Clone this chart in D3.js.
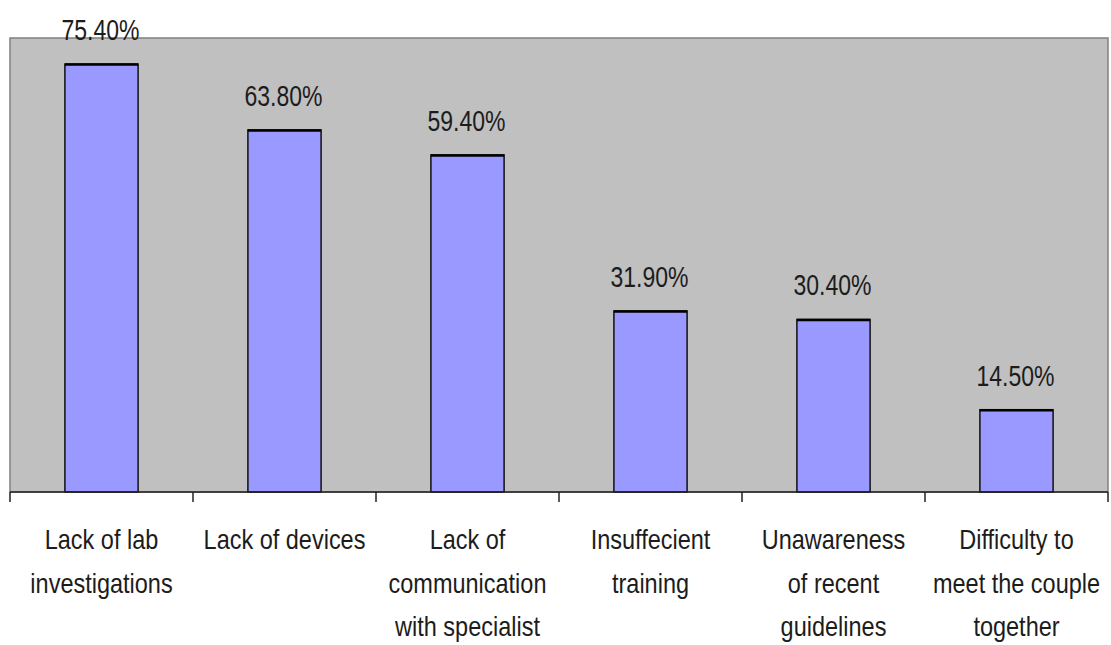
<!DOCTYPE html>
<html>
<head>
<meta charset="utf-8">
<script src="https://cdn.jsdelivr.net/npm/d3@7"></script>
<style>
  body { margin: 0; background: #fff; }
  text { font-family: "Liberation Sans", Arial, sans-serif; fill: #1c1c1c; }
</style>
</head>
<body>
<div id="chart"></div>
<script>
(function () {
  // categories (line breaks as in the picture)
  var categories = [
    "Lack of lab\ninvestigations",
    "Lack of devices",
    "Lack of\ncommunication\nwith specialist",
    "Insuffecient\ntraining",
    "Unawareness\nof recent\nguidelines",
    "Difficulty to\nmeet the couple\ntogether"
  ];
  var values = [75.4, 63.8, 59.4, 31.9, 30.4, 14.5];
  var valueLabels = ["75.40%", "63.80%", "59.40%", "31.90%", "30.40%", "14.50%"];

  var W = 1111, H = 645;
  var margin = { top: 38, right: 3, bottom: 153, left: 10 };
  var width = W - margin.left - margin.right;
  var height = H - margin.top - margin.bottom;

  var svg = d3.select("#chart")
    .append("svg")
    .attr("width", W)
    .attr("height", H)
    .style("display", "block");

  var g = svg.append("g")
    .attr("transform", "translate(" + margin.left + "," + margin.top + ")");

  // scales
  var x = d3.scaleBand()
    .domain(categories)
    .range([0, width])
    .paddingInner(0.6)
    .paddingOuter(0.3);

  var y = d3.scaleLinear().domain([0, 80]).range([height, 0]);

  // gray plot area
  g.append("rect")
    .attr("x", 0)
    .attr("y", 0)
    .attr("width", width)
    .attr("height", height)
    .attr("fill", "#c0c0c0")
    .attr("stroke", "#808080")
    .attr("stroke-width", 1.5);

  // bars
  g.selectAll(".bar")
    .data(values)
    .enter()
    .append("rect")
    .attr("class", "bar")
    .attr("x", function (d, i) { return x(categories[i]); })
    .attr("y", function (d) { return y(d); })
    .attr("width", x.bandwidth())
    .attr("height", function (d) { return height - y(d); })
    .attr("fill", "#9999ff")
    .attr("stroke", "#111")
    .attr("stroke-width", 1.5);

  // thicker top edge of bars
  g.selectAll(".bar-top")
    .data(values)
    .enter()
    .append("line")
    .attr("x1", function (d, i) { return x(categories[i]); })
    .attr("x2", function (d, i) { return x(categories[i]) + x.bandwidth(); })
    .attr("y1", function (d) { return y(d) + 0.5; })
    .attr("y2", function (d) { return y(d) + 0.5; })
    .attr("stroke", "#000")
    .attr("stroke-width", 2.5);

  // value labels (stretched vertically like the source)
  g.selectAll(".bar-label")
    .data(values)
    .enter()
    .append("text")
    .attr("class", "bar-label")
    .attr("text-anchor", "middle")
    .attr("font-size", "23px")
    .attr("transform", function (d, i) {
      return "translate(" + (x(categories[i]) + x.bandwidth() / 2 - 1) + "," + (y(d) - 24) + ") scale(1,1.25)";
    })
    .text(function (d, i) { return valueLabels[i]; });

  // x axis with ticks on band boundaries
  var axis = g.append("g")
    .attr("transform", "translate(0," + height + ")");

  axis.append("line")
    .attr("x1", 0)
    .attr("x2", width)
    .attr("stroke", "#222")
    .attr("stroke-width", 1.5);

  var bounds = categories.map(function (c) { return x(c) - x.step() * 0.3; });
  bounds.push(width);
  axis.selectAll(".tick")
    .data(bounds)
    .enter()
    .append("line")
    .attr("class", "tick")
    .attr("x1", function (d) { return d; })
    .attr("x2", function (d) { return d; })
    .attr("y1", 0)
    .attr("y2", 10)
    .attr("stroke", "#222")
    .attr("stroke-width", 1.5);

  // category labels
  var cat = axis.selectAll(".cat-label")
    .data(categories)
    .enter()
    .append("g")
    .attr("class", "cat-label")
    .attr("transform", function (d) {
      return "translate(" + (x(d) + x.bandwidth() / 2) + ",57)";
    });

  cat.each(function (d) {
    var lines = d.split("\n");
    var sel = d3.select(this);
    lines.forEach(function (ln, k) {
      sel.append("text")
        .attr("text-anchor", "middle")
        .attr("font-size", "23.5px")
        .attr("transform", "translate(0," + (k * 43.5) + ") scale(1,1.2)")
        .text(ln);
    });
  });
})();
</script>
</body>
</html>
